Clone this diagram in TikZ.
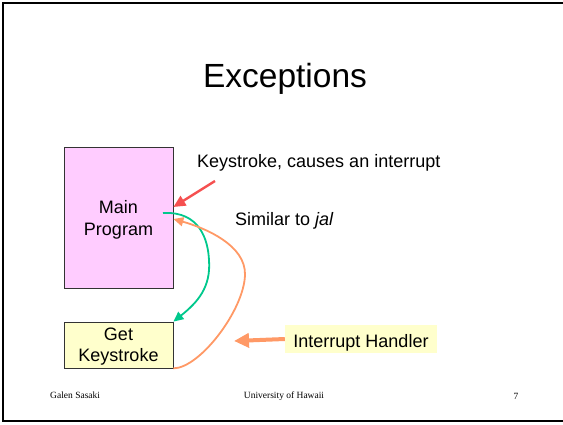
\documentclass[tikz,border=0pt]{standalone}
\usepackage{fontspec}
\setmainfont{Liberation Sans}
\newfontfamily\timesf{Liberation Serif}
\usetikzlibrary{arrows.meta}
\definecolor{boxpink}{RGB}{255,204,255}
\definecolor{boxyellow}{RGB}{255,255,204}
\definecolor{arrorange}{RGB}{255,153,102}
\definecolor{arrgreen}{RGB}{0,200,140}
\definecolor{arrred}{RGB}{245,80,80}
\begin{document}
\begin{tikzpicture}[x=1pt,y=-1pt,
  box/.style={draw=black!80,line width=0.8pt,minimum width=109pt,inner sep=0pt},
  txt/.style={inner sep=0pt,font=\fontsize{18}{21.5}\selectfont},
  foot/.style={inner sep=0pt,font=\timesf\fontsize{9.5}{11}\selectfont,text=black},
  redarr/.style={draw=arrred,line width=2.4pt,-{Triangle[length=12pt,width=11pt]}},
  greenarr/.style={draw=arrgreen,line width=1.8pt,-{Triangle[length=10pt,width=9pt]}},
  orangearr/.style={draw=arrorange,line width=1.8pt,-{Triangle[length=10pt,width=9pt]}},
  thickarr/.style={draw=arrorange,line width=4pt,-{Triangle[length=15pt,width=14pt]}}]
\useasboundingbox (0,0) rectangle (563,424);
% slide frame
\draw[line width=2pt,black] (563,3) -- (3,3) -- (3,421) -- (563,421);
% title
\node[inner sep=0pt,anchor=base,font=\fontsize{33.5}{40}\selectfont] (title) at (285,87) {Exceptions};
% boxes
\node[box,fill=boxpink,minimum height=141pt] (main) at (118.5,217.5) {};
\node[box,fill=boxyellow,minimum height=46pt] (gk) at (118.5,345) {};
\node[txt,align=center] (mainlbl) at ([yshift=-2.4pt]main.center) {Main\\Program};
\node[txt,align=center] (gklbl) at ([yshift=-1.5pt]gk.center) {Get\\Keystroke};
% texts
\node[txt,anchor=base west] (ks) at (197,167.5) {Keystroke, causes an interrupt};
\node[txt,anchor=base west] (sim) at (235,225) {Similar to \textit{jal}};
\node[txt,fill=boxyellow,minimum width=152pt,minimum height=28pt,text height=16pt,text depth=0pt] (ih) at (361,339) {Interrupt Handler};
% footer
\node[foot,anchor=base west] (f1) at (50,398) {Galen Sasaki};
\node[foot,anchor=base] (f2) at (284,398) {University of Hawaii};
\node[foot,anchor=base] (f3) at (516,399) {7};
% coordinates
\coordinate (redtail) at (215,181);
\coordinate (redtip) at (main.east |- 0,207);
\coordinate (greenstart) at (163,213);
\coordinate (orangetip) at (main.east |- 0,219);
\coordinate (ihtip) at (234,341);
% arrows
\draw[redarr] (redtail) -- (redtip);
\draw[greenarr] (greenstart) .. controls (200,211) and (208,240) .. (209,260)
   .. controls (211,287) and (198,302) .. (gk.north east);
\draw[orangearr] (gk.south east) .. controls (200,368) and (244,310) .. (245,275)
   .. controls (246,245) and (205,228) .. (orangetip);
\draw[thickarr] (ih.west) -- (ihtip);
\end{tikzpicture}
\end{document}
